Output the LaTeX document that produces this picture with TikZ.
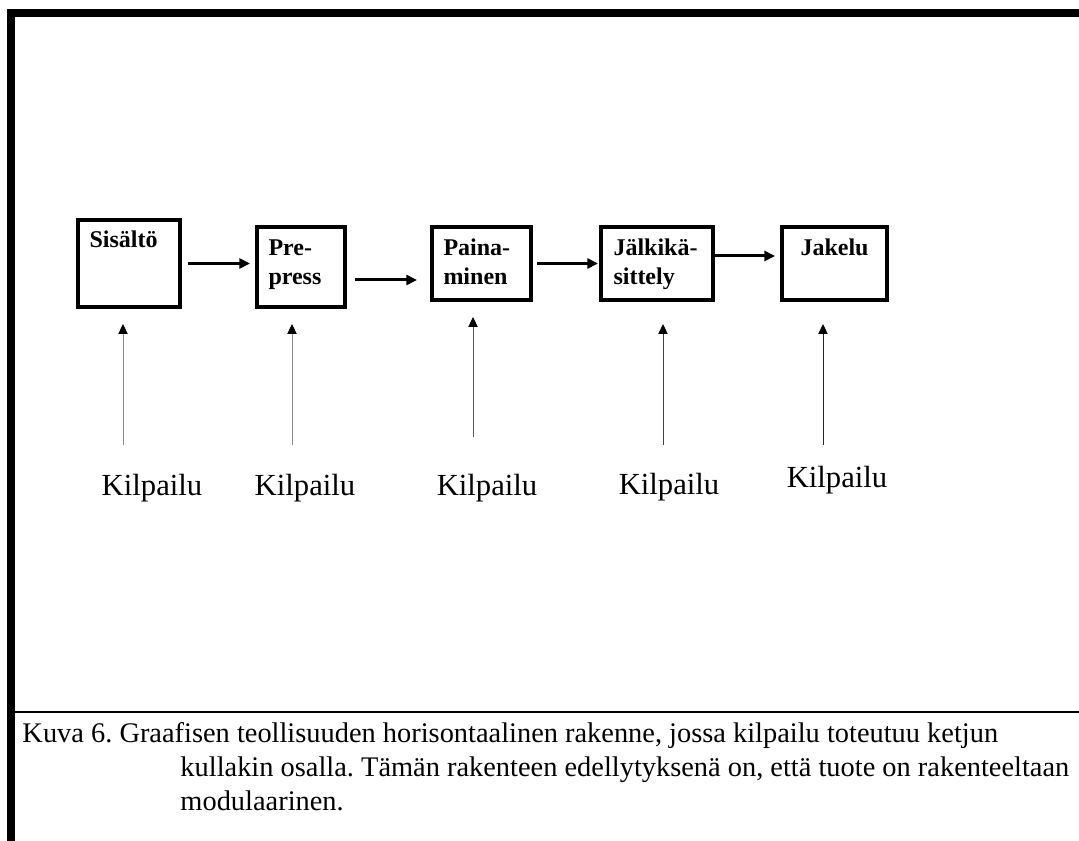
\documentclass[tikz,border=0pt]{standalone}
\usepackage{fontspec}
\setmainfont{Liberation Serif}
\usetikzlibrary{arrows.meta,calc}

\tikzset{every picture/.style={line width=0.75pt}}
\tikzset{
  stage/.style={draw, line width=3pt, inner sep=0pt},
  stagetext/.style={anchor=base west, inner sep=0pt, align=left, font=\fontsize{18}{21.75}\selectfont\bfseries},
  flow/.style={line width=2.25pt, -{Triangle[length=8pt,width=7.5pt]}},
  feed/.style={line width=0.75pt, -{Triangle[length=7.5pt,width=7pt,color=black]}},
  kil/.style={anchor=base, inner sep=0pt, font=\fontsize{23}{27}\selectfont},
  caption/.style={anchor=base west, inner sep=0pt, align=left, font=\fontsize{21.3}{25.5}\selectfont\frenchspacing}
}

\begin{document}
\begin{tikzpicture}[x=0.75pt,y=0.75pt,yscale=-1,xscale=1]
    \useasboundingbox (0,0) rectangle (1079,841);
    %Frame
    \draw[line width=6pt] (11,841) -- (11,13) -- (1079,13) ;
    \draw[line width=1.5pt] (15,712) -- (1079,712) ;
    %Shape: Boxes
    \node[stage, minimum width=76.5pt, minimum height=65.25pt] (sis) at (129,263.5) {};
    \node[stage, minimum width=66pt, minimum height=60pt] (pre) at (301,267) {};
    \node[stage, minimum width=74.25pt, minimum height=54.75pt] (pai) at (481.5,263.5) {};
    \node[stage, minimum width=84pt, minimum height=54.75pt] (jal) at (657,263.5) {};
    \node[stage, minimum width=78.75pt, minimum height=54.75pt] (jak) at (834.5,263.5) {};
    % Text Node (base = last line)
    \node[stagetext] (tsis) at (89,248) {Sisältö};
    \node[stagetext] (tpre) at (268,285) {Pre-\\press};
    \node[stagetext] (tpai) at (443,285) {Paina-\\minen};
    \node[stagetext] (tjal) at (613,285) {Jälkikä-\\sittely};
    \node[stagetext] (tjak) at (800,256) {Jakelu};
    %Straight Lines: chain
    \draw[flow, shorten <=4.5pt, shorten >=3.75pt] (sis.east) -- (pre.west |- sis.east) ;
    \draw[flow, shorten <=6pt, shorten >=9.75pt] ($(pre.east)+(0,13)$) -- ($(pai.west)+(0,16.5)$) ;
    \draw[flow, shorten <=3pt, shorten >=0.75pt] (pai.east) -- (jal.west) ;
    \draw[flow, shorten <=-2.25pt, shorten >=3.75pt] ($(jal.east)+(0,-7.5)$) -- ($(jak.west)+(0,-7.5)$) ;
    % Text Node
    \node[kil] (k1) at (152,496) {Kilpailu};
    \node[kil] (k2) at (305,496) {Kilpailu};
    \node[kil] (k3) at (487,496) {Kilpailu};
    \node[kil] (k4) at (669,495) {Kilpailu};
    \node[kil] (k5) at (837,488) {Kilpailu};
    %Straight Lines: competition
    \coordinate (f1) at (123,445);
    \coordinate (f2) at (292,445);
    \coordinate (f3) at (473,437);
    \coordinate (f4) at (663,445);
    \coordinate (f5) at (823,445);
    \draw[feed, draw=black!45, shorten >=11.25pt] (f1) -- (f1 |- sis.south) ;
    \draw[feed, draw=black!45, shorten >=11.25pt] (f2) -- (f2 |- pre.south) ;
    \draw[feed, draw=black!65, shorten >=11.25pt] (f3) -- (f3 |- pai.south) ;
    \draw[feed, draw=black!75, shorten >=16.5pt] (f4) -- (f4 |- jal.south) ;
    \draw[feed, draw=black!85, shorten >=16.5pt] (f5) -- (f5 |- jak.south) ;
    % Text Node (base = last line)
    \node[caption] (cap) at (22,810) {Kuva 6. Graafisen teollisuuden horisontaalinen rakenne, jossa kilpailu toteutuu ketjun\\
      \hspace*{118.5pt}kullakin osalla. Tämän rakenteen edellytyksenä on, että tuote on rakenteeltaan\\
      \hspace*{118.5pt}modulaarinen.};
\end{tikzpicture}
\end{document}
